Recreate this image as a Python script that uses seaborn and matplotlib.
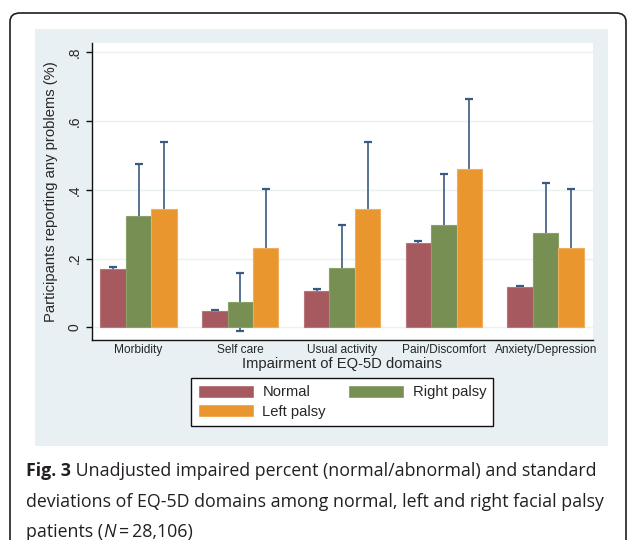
"""EQ-5D impairment by facial palsy group - grouped bars with SD whiskers"""
import pandas as pd
import matplotlib
matplotlib.use('Agg')
import matplotlib.pyplot as plt
from matplotlib.patches import Rectangle, FancyBboxPatch
from matplotlib.text import Annotation
import seaborn as sns

#Values
domains = ['Morbidity', 'Self care', 'Usual activity', 'Pain/Discomfort',
           'Anxiety/Depression']
groups = ['Normal', 'Right palsy', 'Left palsy']
normal = [0.170, 0.047, 0.106, 0.245, 0.116]
right_palsy = [0.324, 0.074, 0.173, 0.298, 0.274]
left_palsy = [0.345, 0.230, 0.345, 0.460, 0.230]
normal_sd = [0.005, 0.002, 0.004, 0.005, 0.003]
right_palsy_sd = [0.151, 0.085, 0.125, 0.149, 0.146]
left_palsy_sd = [0.195, 0.173, 0.195, 0.205, 0.173]
yticks = [0, 0.2, 0.4, 0.6, 0.8]
ytick_labels = ['0', '.2', '.4', '.6', '.8']

colors = {'Normal': '#a65a5f', 'Right palsy': '#778f52', 'Left palsy': '#e9962f'}
edges = {'Normal': '#b8767a', 'Right palsy': '#8aa168', 'Left palsy': '#f0ae5c'}

df = pd.DataFrame({
    'domain': domains * 3,
    'group': [g for g in groups for _ in domains],
    'value': normal + right_palsy + left_palsy,
    'sd': normal_sd + right_palsy_sd + left_palsy_sd,
})

sns.set_style('white')
plt.rcParams['font.family'] = ['Liberation Sans', 'DejaVu Sans']

W, H = 627, 540
fig = plt.figure(figsize=(W / 100, H / 100), dpi=100, facecolor='white')

#Outer card and Stata-like graph region
fig.patches.append(FancyBboxPatch((10 / W, -0.1), (626 - 10) / W, 1 - 13 / H + 0.1,
                                  boxstyle='round,pad=0,rounding_size=0.016',
                                  transform=fig.transFigure, facecolor='white',
                                  edgecolor='#1e1e1e', linewidth=1.2, zorder=-3))
fig.patches.append(Rectangle((35 / W, 1 - 445.5 / H), (608 - 35) / W, (445.5 - 29) / H,
                             transform=fig.transFigure, facecolor='#e9f0f3',
                             edgecolor='none', zorder=-2))

ax = fig.add_axes([91.7 / W, 1 - 340 / H, (593 - 91.7) / W, (340 - 42.7) / H])
ax.set_facecolor('white')

sns.barplot(data=df, x='domain', y='value', hue='group', hue_order=groups,
            order=domains, palette=colors, width=0.75, errorbar=None,
            saturation=1, ax=ax, zorder=3)

#Error bars (behind the bars), placed from the drawn bars
for cont, g in zip(ax.containers, groups):
    sub = df[df['group'] == g].set_index('domain').loc[domains]
    xs = [p.get_x() + p.get_width() / 2 for p in cont]
    ys = [p.get_height() for p in cont]
    for p in cont:
        p.set_edgecolor(edges[g])
        p.set_linewidth(0.8)
    ax.errorbar(xs, ys, yerr=sub['sd'].to_numpy(), fmt='none', ecolor='#3b5a80',
                elinewidth=1.2, capsize=3.2, capthick=1.6, zorder=2)

ax.set_xlim(-0.46, 4.465)
ax.set_ylim(-0.037, 0.828)
ax.set_yticks(yticks)
ax.set_yticklabels(ytick_labels, rotation=90, va='center')
ax.yaxis.grid(True, color='#eaf1f3', linewidth=1.0, zorder=0)
ax.set_axisbelow(True)

for s in ['top', 'right']:
    ax.spines[s].set_visible(False)
for s in ['left', 'bottom']:
    ax.spines[s].set_color('#111111')
    ax.spines[s].set_linewidth(1.0)

ax.tick_params(axis='y', direction='out', length=4, width=1, color='#111111',
               pad=3, labelsize=10, left=True)
ax.tick_params(axis='x', length=0, pad=3, labelsize=8.6)

ax.set_ylabel('Participants reporting any problems (%)', fontsize=10.6)
ax.yaxis.set_label_coords(-0.067, 0.5)
ax.set_xlabel('Impairment of EQ-5D domains', fontsize=10.6, va='top')
ax.xaxis.set_label_coords(0.5, -0.056)

#Legend: Normal / Right palsy on first row, Left palsy below
handles, labels = ax.get_legend_handles_labels()
ax.get_legend().remove()
hmap = dict(zip(labels, handles))
order = ['Normal', 'Left palsy', 'Right palsy']
leg = fig.legend([hmap[k] for k in order], order, ncol=2,
                 loc='upper center', bbox_to_anchor=(342 / W, 1 - 378.3 / H),
                 fontsize=10.6, frameon=True, fancybox=False, framealpha=1,
                 handlelength=3.8, handleheight=0.95, handletextpad=0.6,
                 columnspacing=1.5, labelspacing=0.35, borderpad=0.45,
                 borderaxespad=0)
leg.get_frame().set_edgecolor('#111111')
leg.get_frame().set_linewidth(1.0)

#Caption (bold figure number, italic N)
cap_kw = dict(fontsize=12.8, color='#231f20', family=['Open Sans', 'DejaVu Sans'])


def chain(prev, text, **kw):
    a = Annotation(text, xy=(1, 0), xycoords=prev, va='bottom', ha='left',
                   **cap_kw, **kw)
    fig.add_artist(a)
    return a


t1 = fig.text(26 / W, 1 - 480 / H, 'Fig. 3', weight='bold', va='bottom', **cap_kw)
chain(t1, ' Unadjusted impaired percent (normal/abnormal) and standard')
fig.text(26 / W, 1 - 511 / H,
         'deviations of EQ-5D domains among normal, left and right facial palsy',
         va='bottom', **cap_kw)
t3 = fig.text(26 / W, 1 - 541 / H, 'patients (', va='bottom', **cap_kw)
t4 = chain(t3, 'N', style='italic')
chain(t4, '\u2009=\u200928,106)')

fig.savefig('out.png', dpi=100, facecolor='white')
